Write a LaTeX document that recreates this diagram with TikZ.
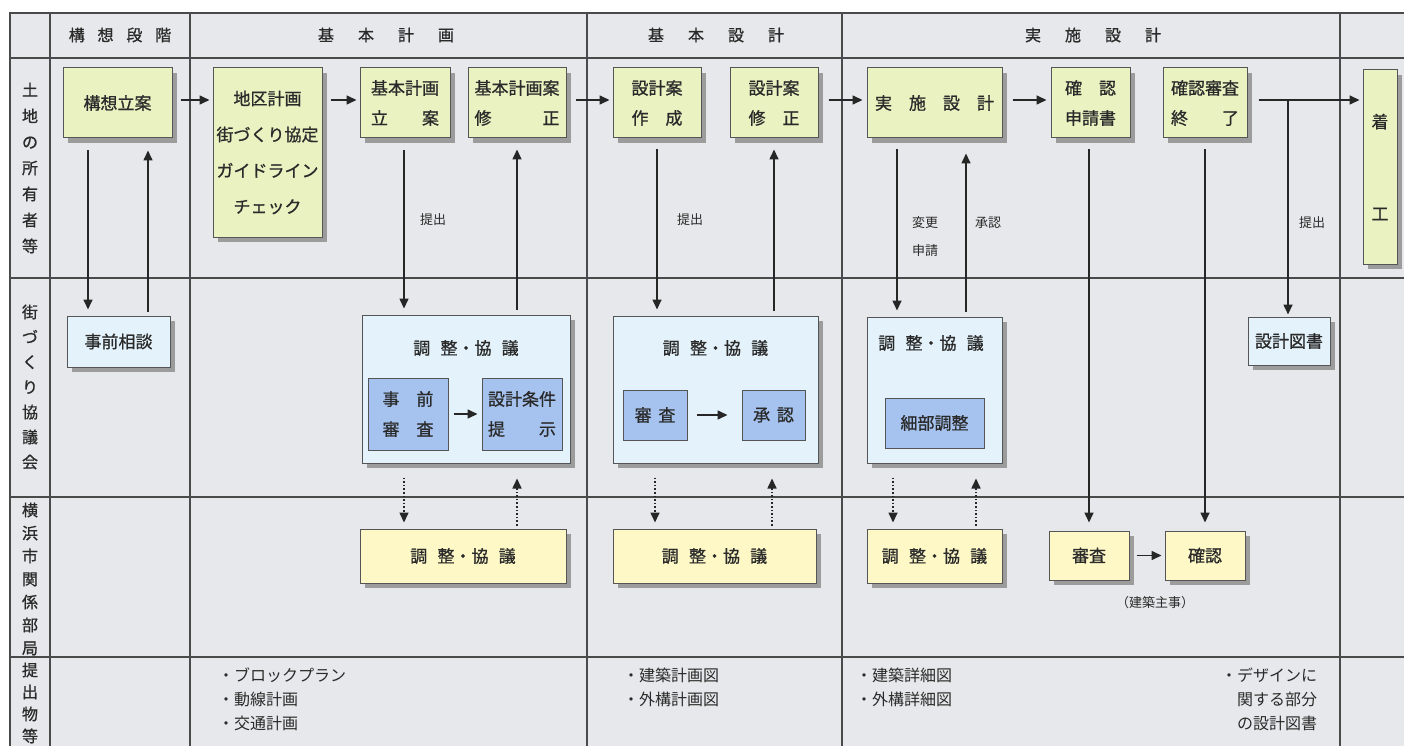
\documentclass[tikz,border=0pt]{standalone}
\usepackage{fontspec}
\newfontfamily\jp{Noto Sans CJK JP}[FakeBold=0.9]
\newfontfamily\jpr{Noto Sans CJK JP}
\usetikzlibrary{shadows,arrows.meta}
\definecolor{bgc}{HTML}{E7E8EB}
\definecolor{gfill}{HTML}{EBF2C1}
\definecolor{cfill}{HTML}{E4F3FB}
\definecolor{bfill}{HTML}{A6C3EF}
\definecolor{yfill}{HTML}{FDF8C6}
\definecolor{edgec}{HTML}{555555}
\definecolor{txtc}{HTML}{2A2A2A}
\definecolor{gridc}{HTML}{4A4A4A}
\definecolor{shdc}{HTML}{9C9C9C}
\tikzset{
 shd/.style={drop shadow={shadow xshift=5pt, shadow yshift=-5pt, fill=shdc, opacity=1}},
 base/.style={draw=edgec, line width=1pt, inner sep=0pt, text=txtc, align=center, font=\jp\fontsize{17}{30}\selectfont},
 gbox/.style={base, fill=gfill, shd},
 cbox/.style={base, fill=cfill, shd},
 bbox/.style={base, fill=bfill},
 ybox/.style={base, fill=yfill, shd},
 arr/.style={-{Triangle[length=10pt,width=9pt]}, line width=1.6pt, draw=black!85},
 darr/.style={arr, dotted},
 lbl/.style={text=txtc, font=\jpr\fontsize{13}{28}\selectfont, align=center},
 hdr/.style={text=txtc, font=\jp\fontsize{16}{20}\selectfont},
 vlab/.style={text=txtc, align=center, inner sep=0pt},
 ttl/.style={text=txtc, font=\jp\fontsize{17}{20}\selectfont},
 sub/.style={text=txtc, align=left, inner sep=0pt, font=\jpr\fontsize{16}{24}\selectfont},
 gridl/.style={draw=gridc, line width=1.2pt},
}
\begin{document}
\begin{tikzpicture}[x=1pt,y=-1pt]
\useasboundingbox (0,0) rectangle (1404,746);
\fill[white] (0,0) rectangle (1404,746);
\fill[bgc] (10,13) rectangle (1404,746);
% grid
\draw[gridl] (10,746) -- (10,13) -- (1404,13);
\foreach \yy in {58,278,497,657} \draw[gridl] (10,\yy) -- (1404,\yy);
\foreach \xx in {50,190,587,842,1340} \draw[gridl] (\xx,13) -- (\xx,746);
% headers
\node[hdr] (h1) at (120,35) {構\hspace{0.8em}想\hspace{0.8em}段\hspace{0.8em}階};
\node[hdr] (h2) at (386,35) {基\hspace{1.5em}本\hspace{1.5em}計\hspace{1.5em}画};
\node[hdr] (h3) at (716,35) {基\hspace{1.5em}本\hspace{1.5em}設\hspace{1.5em}計};
\node[hdr] (h4) at (1093,35) {実\hspace{1.5em}施\hspace{1.5em}設\hspace{1.5em}計};
% row labels
\node[vlab, font=\jp\fontsize{16}{26}\selectfont] (r1) at (30,168) {土\\地\\の\\所\\有\\者\\等};
\node[vlab, font=\jp\fontsize{16}{25}\selectfont] (r2) at (30,387) {街\\づ\\く\\り\\協\\議\\会};
\node[vlab, font=\jp\fontsize{16}{23}\selectfont] (r3) at (30,579) {横\\浜\\市\\関\\係\\部\\局};
\node[vlab, font=\jp\fontsize{16}{22}\selectfont] (r4) at (30,703) {提\\出\\物\\等};
% row 1 boxes
\node[gbox, minimum width=109, minimum height=70] (kou) at (117.5,103) {構想立案};
\node[gbox, minimum width=109, minimum height=169, font=\jp\fontsize{17}{36}\selectfont] (chiku) at (267.5,152.5) {地区計画\\街づくり協定\\ガイドライン\\チェック};
\node[gbox, minimum width=90, minimum height=70] (kp1) at (405,103) {基本計画\\\makebox[4em]{立\hfill 案}};
\node[gbox, minimum width=98, minimum height=70] (kp2) at (517,103) {基本計画案\\\makebox[5em]{修\hfill 正}};
\node[gbox, minimum width=88, minimum height=70] (sk1) at (657,103) {設計案\\\makebox[3em]{作\hfill 成}};
\node[gbox, minimum width=88, minimum height=70] (sk2) at (774,103) {設計案\\\makebox[3em]{修\hfill 正}};
\node[gbox, minimum width=135, minimum height=70] (js) at (934.5,103) {実\quad 施\quad 設\quad 計};
\node[gbox, minimum width=79, minimum height=70] (kk1) at (1090.5,103) {\makebox[3em]{確\hfill 認}\\申請書};
\node[gbox, minimum width=84, minimum height=70] (kk2) at (1205,103) {確認審査\\\makebox[4em]{終\hfill 了}};
\node[gbox, minimum width=34, minimum height=194, font=\jp\fontsize{17}{92}\selectfont] (ck) at (1380,167) {着\\工};
% row 2
\node[cbox, minimum width=103, minimum height=51] (jz) at (118.5,341.5) {事前相談};
\node[cbox, minimum width=208, minimum height=148] (c1) at (466,389) {};
\node[ttl] (t1) at (466,348) {調\hspace{0.6em}整・協\hspace{0.6em}議};
\node[bbox, minimum width=80, minimum height=72] (b1a) at (408,414) {\makebox[3em]{事\hfill 前}\\\makebox[3em]{審\hfill 査}};
\node[bbox, minimum width=80, minimum height=72] (b1b) at (522,414) {設計条件\\\makebox[4em]{提\hfill 示}};
\node[cbox, minimum width=205, minimum height=147] (c2) at (715.5,389.5) {};
\node[ttl] (t2) at (715.5,348) {調\hspace{0.6em}整・協\hspace{0.6em}議};
\node[bbox, minimum width=64, minimum height=50] (b2a) at (655,415) {審\hspace{0.4em}査};
\node[bbox, minimum width=63, minimum height=50] (b2b) at (773.5,415) {承\hspace{0.4em}認};
\node[cbox, minimum width=135, minimum height=146] (c3) at (934.5,390) {};
\node[ttl] (t3) at (931,343) {調\hspace{0.6em}整・協\hspace{0.6em}議};
\node[bbox, minimum width=99, minimum height=50] (b3) at (934.5,423) {細部調整};
\node[cbox, minimum width=82, minimum height=48] (zs) at (1289,341) {設計図書};
% row 3
\node[ybox, minimum width=206, minimum height=54] (y1) at (463,556) {調\hspace{0.6em}整・協\hspace{0.6em}議};
\node[ybox, minimum width=203, minimum height=54] (y2) at (714.5,556) {調\hspace{0.6em}整・協\hspace{0.6em}議};
\node[ybox, minimum width=135, minimum height=54] (y3) at (934.5,556) {調\hspace{0.6em}整・協\hspace{0.6em}議};
\node[ybox, minimum width=80, minimum height=49] (ss) at (1089,555.5) {審査};
\node[ybox, minimum width=80, minimum height=49] (kn) at (1205,555.5) {確認};
\node[lbl] (kenchiku) at (1155,603) {（建築主事）};
% row 4
\node[sub, anchor=west] (s1) at (218,699) {・ブロックプラン\\・動線計画\\・交通計画};
\node[sub, anchor=west] (s2) at (623,687.5) {・建築計画図\\・外構計画図};
\node[sub, anchor=west] (s3) at (856,687.5) {・建築詳細図\\・外構詳細図};
\node[sub, anchor=west] (s4) at (1221,699) {・デザインに\\\hphantom{・}関する部分\\\hphantom{・}の設計図書};
% labels on arrows
\node[lbl] (l1) at (433,220) {提出};
\node[lbl] (l2) at (690,220) {提出};
\node[lbl] (l3) at (925,237) {変更\\申請};
\node[lbl] (l4) at (988,223) {承認};
\node[lbl] (l5) at (1312,223) {提出};
% horizontal arrows
\draw[arr, shorten <=8pt, shorten >=3pt] ([yshift=3pt]kou.east) -- ([yshift=3pt]kou.east -| chiku.west);
\draw[arr, shorten <=8pt, shorten >=3pt] ([yshift=3pt]kou.east -| chiku.east) -- ([yshift=3pt]kp1.west);
\draw[arr, shorten <=9pt, shorten >=3pt] ([yshift=3pt]kp2.east) -- ([yshift=3pt]sk1.west);
\draw[arr, shorten <=10pt, shorten >=4pt] ([yshift=3pt]sk2.east) -- ([yshift=3pt]js.west);
\draw[arr, shorten <=10pt, shorten >=4pt] ([yshift=3pt]js.east) -- ([yshift=3pt]kk1.west);
\coordinate (br) at (1288,100);
\draw[arr, shorten <=11pt, shorten >=3pt] ([yshift=3pt]kk2.east) -- ([yshift=3pt]kk2.east -| ck.west);
\draw[arr, shorten >=2pt] (br) -- (br |- zs.north);
% vertical solid arrows
\draw[arr, shorten <=12pt, shorten >=6pt] ([xshift=-29.5pt]kou.south) -- ([xshift=-29.5pt]kou.south |- jz.north);
\draw[arr, shorten <=4pt, shorten >=12pt] ([xshift=29.5pt]jz.north) -- ([xshift=29.5pt]jz.north |- kou.south);
\draw[arr, shorten <=12pt, shorten >=6pt] ([xshift=-1pt]kp1.south) -- ([xshift=-1pt]kp1.south |- c1.north);
\draw[arr, shorten <=5pt, shorten >=11pt] (kp2.south |- c1.north) -- (kp2.south);
\draw[arr, shorten <=11pt, shorten >=6pt] (sk1.south) -- (sk1.south |- c2.north);
\draw[arr, shorten <=5pt, shorten >=11pt] (sk2.south |- c2.north) -- (sk2.south);
\draw[arr, shorten <=11pt, shorten >=6pt] ([xshift=-37.5pt]js.south) -- ([xshift=-37.5pt]js.south |- c3.north);
\draw[arr, shorten <=5pt, shorten >=15pt] ([xshift=31.5pt]js.south |- c3.north) -- ([xshift=31.5pt]js.south);
\draw[arr, shorten <=11pt, shorten >=8pt] (kk1.south -| ss.north) -- (ss.north);
\draw[arr, shorten <=11pt, shorten >=8pt] (kk2.south -| kn.north) -- (kn.north);
% inner arrows
\draw[arr, shorten <=5pt, shorten >=4pt] (b1a.east) -- (b1b.west);
\draw[arr, shorten <=9pt, shorten >=14pt] (b2a.east) -- (b2b.west);
\draw[arr, shorten <=7pt, shorten >=3pt] (ss.east) -- (kn.west);
% dotted arrows
\draw[darr, shorten <=14pt, shorten >=6pt] ([xshift=-59pt]y1.north |- c1.south) -- ([xshift=-59pt]y1.north);
\draw[darr, shorten <=3pt, shorten >=15pt] ([xshift=54pt]y1.north) -- ([xshift=54pt]y1.north |- c1.south);
\draw[darr, shorten <=14pt, shorten >=6pt] ([xshift=-59.5pt]y2.north |- c2.south) -- ([xshift=-59.5pt]y2.north);
\draw[darr, shorten <=3pt, shorten >=15pt] ([xshift=57.5pt]y2.north) -- ([xshift=57.5pt]y2.north |- c2.south);
\draw[darr, shorten <=14pt, shorten >=6pt] ([xshift=-41.5pt]y3.north |- c3.south) -- ([xshift=-41.5pt]y3.north);
\draw[darr, shorten <=3pt, shorten >=15pt] ([xshift=41.5pt]y3.north) -- ([xshift=41.5pt]y3.north |- c3.south);
\end{tikzpicture}
\end{document}
